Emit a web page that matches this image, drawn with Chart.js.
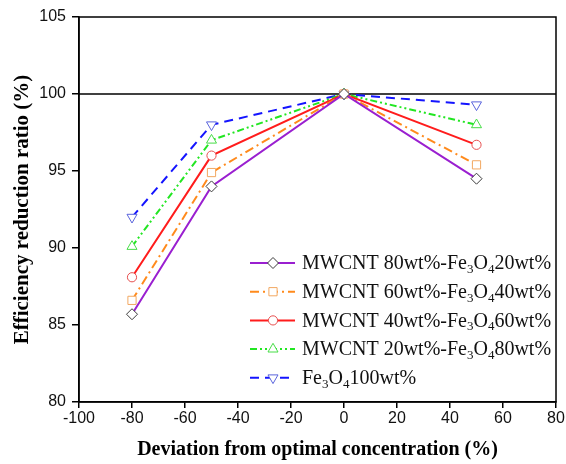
<!DOCTYPE html>
<html>
<head>
<meta charset="utf-8">
<script src="https://cdn.jsdelivr.net/npm/chart.js@4/dist/chart.umd.min.js"></script>
<style>
  html, body { margin: 0; padding: 0; background: #fff; }
  #wrap { width: 566px; height: 464px; }
</style>
</head>
<body>
<div id="wrap"><canvas id="chart" width="566" height="464"></canvas></div>
<script>
// values
const deviation = [-80, -50, 0, 50];
const mw80 = [85.7, 94.0, 100, 94.5];
const mw60 = [86.6, 94.9, 100, 95.4];
const mw40 = [88.1, 96.0, 100, 96.7];
const mw20 = [90.1, 97.0, 100, 98.0];
const fe100 = [92.0, 98.0, 100, 99.3];

const seriesLabels = [
    'MWCNT 80wt%-Fe₃O₄20wt%',
    'MWCNT 60wt%-Fe₃O₄40wt%',
    'MWCNT 40wt%-Fe₃O₄60wt%',
    'MWCNT 20wt%-Fe₃O₄80wt%',
    'Fe₃O₄100wt%'
];
const xTicks = [-100, -80, -60, -40, -20, 0, 20, 40, 60, 80];
const yTicks = [80, 85, 90, 95, 100, 105];

function toPoints(ys) {
    return deviation.map((x, i) => ({ x: x, y: ys[i] }));
}

// line / marker styles
const styles = [
    { line: '#9a1fd0', dash: [], marker: 'rectRot', mColor: '#3a3a3a', r: 5.5, rot: 0 },
    { line: '#ff8a1c', dash: [9, 4, 2, 4], marker: 'rect', mColor: '#f2a862', r: 5.8, rot: 0 },
    { line: '#ff1c1c', dash: [], marker: 'circle', mColor: '#e64f4f', r: 4.6, rot: 0 },
    { line: '#22e622', dash: [7, 3, 2, 3, 2, 3], marker: 'triangle', mColor: '#47dd47', r: 5.8, rot: 0 },
    { line: '#1414ff', dash: [9, 6], marker: 'triangle', mColor: '#5a64dc', r: 5.8, rot: 180 }
];
const seriesValues = [mw80, mw60, mw40, mw20, fe100];

const datasets = seriesValues.map((vals, i) => ({
    label: seriesLabels[i],
    data: toPoints(vals),
    showLine: true,
    borderColor: styles[i].line,
    borderWidth: 2,
    borderDash: styles[i].dash,
    pointStyle: styles[i].marker,
    pointRotation: styles[i].rot,
    pointRadius: styles[i].r,
    pointHoverRadius: styles[i].r,
    pointBorderColor: styles[i].mColor,
    pointBackgroundColor: '#fff',
    pointBorderWidth: 1,
    tension: 0
}));

// text with unicode subscripts drawn as small lowered digits
function drawSubText(ctx, text, x, y, size) {
    const subs = { '₃': '3', '₄': '4' };
    let cx = x;
    for (const ch of text) {
        if (subs[ch]) {
            ctx.font = Math.round(size * 0.65) + 'px "Liberation Serif"';
            ctx.fillText(subs[ch], cx, y + size * 0.28);
            cx += ctx.measureText(subs[ch]).width;
        } else {
            ctx.font = size + 'px "Liberation Serif"';
            ctx.fillText(ch, cx, y);
            cx += ctx.measureText(ch).width;
        }
    }
}

const framePlugin = {
    id: 'frame',
    beforeDatasetsDraw(chart) {
        const { ctx, chartArea } = chart;
        const y100 = chart.scales.y.getPixelForValue(100);
        ctx.save();
        ctx.strokeStyle = '#000';
        ctx.lineWidth = 1.5;
        ctx.beginPath();
        ctx.moveTo(chartArea.left, y100);
        ctx.lineTo(chartArea.right, y100);
        ctx.stroke();
        ctx.restore();
    },
    afterDraw(chart) {
        const { ctx, chartArea } = chart;
        ctx.save();
        ctx.strokeStyle = '#000';
        ctx.lineWidth = 1.5;
        ctx.strokeRect(chartArea.left, chartArea.top,
            chartArea.right - chartArea.left, chartArea.bottom - chartArea.top);

        // legend
        const lx = chartArea.right - 306;
        let ly = chartArea.bottom - 139;
        chart.data.datasets.forEach((ds, i) => {
            ctx.setLineDash(ds.borderDash);
            ctx.strokeStyle = ds.borderColor;
            ctx.lineWidth = 2;
            ctx.beginPath();
            ctx.moveTo(lx, ly);
            ctx.lineTo(lx + 45, ly);
            ctx.stroke();
            ctx.setLineDash([]);
            ctx.fillStyle = '#fff';
            ctx.strokeStyle = ds.pointBorderColor;
            ctx.lineWidth = 1;
            Chart.helpers.drawPoint(ctx, {
                pointStyle: ds.pointStyle, rotation: ds.pointRotation,
                radius: ds.pointRadius, borderWidth: 1
            }, lx + 23, ly);
            ctx.fillStyle = '#111';
            ctx.textBaseline = 'middle';
            ctx.textAlign = 'left';
            drawSubText(ctx, ds.label, lx + 52, ly + 1, 20);
            ly += 28.7;
        });
        ctx.restore();
    }
};

new Chart(document.getElementById('chart'), {
    type: 'scatter',
    data: { datasets: datasets },
    options: {
        responsive: false,
        animation: false,
        devicePixelRatio: 1,
        layout: { padding: { top: 17, right: 10, left: 0, bottom: 0 } },
        plugins: {
            legend: { display: false },
            tooltip: { enabled: false }
        },
        scales: {
            x: {
                type: 'linear',
                min: -100,
                max: 80,
                afterBuildTicks(axis) { axis.ticks = xTicks.map(v => ({ value: v })); },
                afterFit(axis) { axis.height = 62; },
                grid: { display: true, drawOnChartArea: false, drawTicks: true, tickLength: 6, color: '#000', lineWidth: 1.5 },
                border: { display: true, color: '#000', width: 1.5 },
                ticks: { color: '#111', padding: 1, font: { family: '"Liberation Sans"', size: 16 } },
                title: {
                    display: true,
                    text: 'Deviation from optimal concentration (%)',
                    color: '#000',
                    padding: { top: 0, bottom: 2 },
                    font: { family: '"Liberation Serif"', size: 20, weight: 'bold' }
                }
            },
            y: {
                min: 80,
                max: 105,
                afterBuildTicks(axis) { axis.ticks = yTicks.map(v => ({ value: v })); },
                afterFit(axis) { axis.width = 79; },
                grid: { display: true, drawOnChartArea: false, drawTicks: true, tickLength: 7, color: '#000', lineWidth: 1.5 },
                border: { display: true, color: '#000', width: 1.5 },
                ticks: { color: '#111', padding: 6, font: { family: '"Liberation Sans"', size: 16 } },
                title: {
                    display: true,
                    text: 'Efficiency reduction ratio (%)',
                    color: '#000',
                    padding: { top: 10, bottom: 0 },
                    font: { family: '"Liberation Serif"', size: 21, weight: 'bold' }
                }
            }
        }
    },
    plugins: [framePlugin]
});
</script>
</body>
</html>
